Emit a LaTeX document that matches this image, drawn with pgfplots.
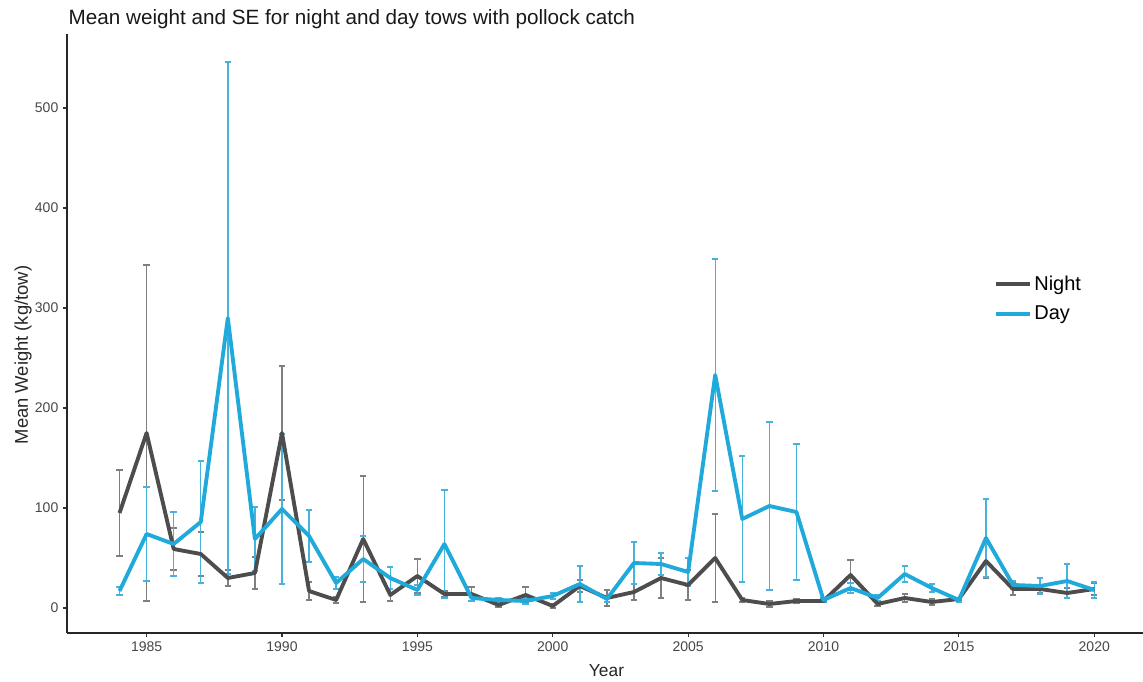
\documentclass[border=0pt]{standalone}
\usepackage{pgfplots}
\pgfplotsset{compat=1.18}
\usepackage{pgfplotstable}
\usepackage{fontspec}
\setmainfont{Liberation Sans}
\definecolor{nightcol}{HTML}{4D4D4D}
\definecolor{nightbar}{HTML}{7F7F7F}
\definecolor{daycol}{HTML}{1FAADB}
\definecolor{daybar}{HTML}{45B3DB}

\pgfplotstableread{
year n ne d de
1984 95 43 17 4
1985 175 168 74 47
1986 59 21 64 32
1987 54 22 86 61
1988 30 8 290 256
1989 35 16 69 32
1990 175 67 99 75
1991 17 9 72 26
1992 8 3 25 6
1993 69 63 49 23
1994 13 6 30 11
1995 32 17 18 5
1996 14 3 64 54
1997 14 7 10 3
1998 3 2 8 2
1999 13 8 7 3
2000 2 2 12 3
2001 22 6 24 18
2002 10 8 9 3
2003 16 8 45 21
2004 30 20 44 11
2005 23 15 36 14
2006 50 44 233 116
2007 8 2 89 63
2008 4 3 102 84
2009 7 2 96 68
2010 7 1 8 2
2011 33 15 20 5
2012 4 2 10 3
2013 10 4 34 8
2014 6 3 20 4
2015 9 1 8 2
2016 47 17 70 39
2017 19 6 23 4
2018 19 4 22 8
2019 15 5 27 17
2020 19 6 18 8
}\datatable

\begin{document}
\begin{tikzpicture}[x=0.75pt,y=0.75pt]
\useasboundingbox (0,0) rectangle (1143,682);
\begin{axis}[
  at={(50.25pt,36.75pt)}, anchor=south west,
  scale only axis,
  width=807pt, height=449.25pt,
  xmin=1982.06, xmax=2021.8,
  ymin=-25, ymax=574,
  axis x line=bottom, axis y line=left,
  axis line style={-, draw=black!85, line width=0.8pt},
  xtick={1985,1990,...,2020},
  ytick={0,100,...,500},
  tick align=outside,
  major tick length=3pt,
  tick style={draw=black!80, line width=0.8pt},
  minor tick num=0,
  /pgf/number format/assume math mode=true,
  /pgf/number format/1000 sep={},
  tick label style={font=\fontsize{10.5}{12}\selectfont, text=black!72},
  legend style={at={(rel axis cs:0.858,0.606)}, anchor=north west, draw=none, fill=none,
    font=\fontsize{15}{18}\selectfont, row sep=6.5pt},
  legend cell align=left,
  legend image code/.code={\draw[#1] (0pt,0pt) -- (16.5pt,0pt); \path (0pt,0pt) -- (25pt,0pt);},
  clip=false,
]
\addplot[draw=none, forget plot,
  error bars/.cd, y dir=both, y explicit, error mark=|,
  error bar style={draw=nightbar, line width=1.05pt},
  error mark options={draw=nightbar, line width=1.05pt, mark size=2.4pt}]
  table[x=year, y=n, y error=ne] {\datatable};
\addplot[draw=none, forget plot,
  error bars/.cd, y dir=both, y explicit, error mark=|,
  error bar style={draw=daybar, line width=1.05pt},
  error mark options={draw=daybar, line width=1.05pt, mark size=2.4pt}]
  table[x=year, y=d, y error=de] {\datatable};
\addplot[nightcol, line width=2.9pt, line join=round] table[x=year, y=n] {\datatable};
\addlegendentry{Night}
\addplot[daycol, line width=2.9pt, line join=round] table[x=year, y=d] {\datatable};
\addlegendentry{Day}
\end{axis}
\node[anchor=west, font=\fontsize{15.5}{18}\selectfont, text=black!90] at (64,663) {Mean weight and SE for night and day tows with pollock catch};
\node[rotate=90, font=\fontsize{13.8}{16}\selectfont, text=black!85] at (23,327) {Mean Weight (kg/tow)};
\node[anchor=base, font=\fontsize{13}{16}\selectfont, text=black!85] at (606.5,5) {Year};
\end{tikzpicture}
\end{document}
